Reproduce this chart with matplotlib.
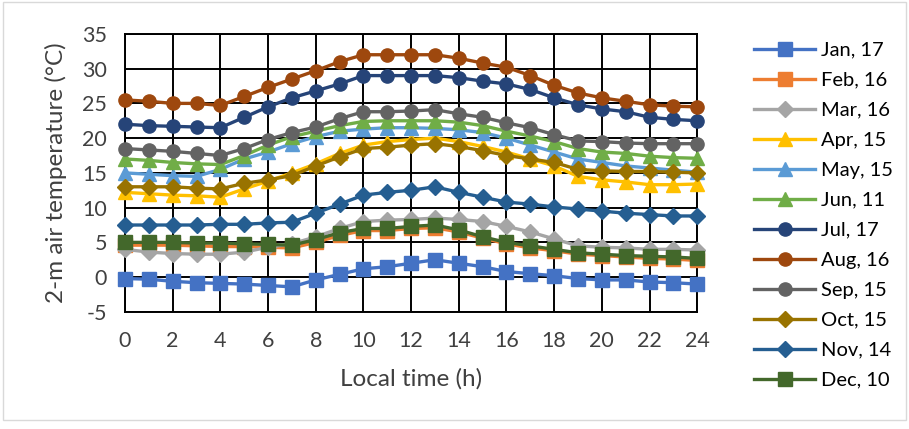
import matplotlib.pyplot as plt
from matplotlib.patches import Rectangle

plt.rcParams['font.family'] = ['Lato', 'DejaVu Sans']
plt.rcParams['axes.unicode_minus'] = False

hours = list(range(25))

jan = [-0.2, -0.3, -0.6, -0.8, -0.9, -1.0, -1.2, -1.4, -0.4, 0.4, 1.2, 1.5, 2.0, 2.5, 2.0, 1.5, 0.8, 0.5, 0.2, -0.2, -0.4, -0.4, -0.7, -0.8, -1.0]
feb = [4.6, 4.6, 4.6, 4.5, 4.4, 4.4, 4.3, 4.2, 5.0, 6.0, 6.7, 6.7, 7.0, 7.1, 6.5, 5.6, 4.8, 4.2, 3.8, 3.3, 3.1, 2.9, 2.7, 2.6, 2.4]
mar = [4.0, 3.6, 3.4, 3.3, 3.3, 3.6, 4.3, 4.8, 5.8, 7.0, 8.0, 8.2, 8.3, 8.5, 8.3, 8.0, 7.3, 6.5, 5.5, 4.5, 4.3, 4.2, 4.0, 4.0, 3.9]
apr = [12.2, 12.0, 11.8, 11.7, 11.5, 12.7, 13.8, 15.0, 16.3, 17.8, 19.0, 19.5, 19.8, 20.0, 19.5, 18.8, 18.0, 17.0, 16.0, 14.5, 14.0, 13.7, 13.3, 13.3, 13.4]
may = [15.0, 14.8, 14.6, 14.5, 15.5, 17.0, 18.0, 19.2, 20.2, 21.0, 21.3, 21.5, 21.5, 21.4, 21.2, 20.8, 20.0, 19.0, 18.0, 17.0, 16.5, 16.0, 15.7, 15.4, 15.1]
jun = [17.0, 16.8, 16.5, 16.3, 16.2, 17.5, 19.0, 20.2, 21.0, 21.8, 22.4, 22.5, 22.5, 22.5, 22.3, 21.8, 21.0, 20.3, 19.5, 18.5, 18.0, 17.8, 17.4, 17.2, 17.1]
jul = [22.0, 21.8, 21.7, 21.6, 21.5, 23.0, 24.5, 25.8, 26.8, 27.8, 29.0, 29.0, 29.0, 29.0, 28.7, 28.2, 27.8, 27.0, 25.8, 24.8, 24.2, 23.8, 23.0, 22.7, 22.5]
aug = [25.5, 25.3, 25.0, 25.0, 24.7, 26.0, 27.3, 28.5, 29.7, 31.0, 32.0, 32.0, 32.0, 32.0, 31.5, 30.8, 30.2, 29.0, 27.6, 26.5, 25.8, 25.3, 24.8, 24.6, 24.5]
sep = [18.5, 18.3, 18.1, 17.8, 17.5, 18.5, 19.8, 20.8, 21.6, 22.8, 23.8, 23.8, 23.9, 24.1, 23.5, 23.0, 22.2, 21.5, 20.5, 19.6, 19.5, 19.3, 19.2, 19.2, 19.2]
oct_ = [13.0, 13.0, 13.0, 12.8, 12.7, 13.5, 14.0, 14.6, 16.0, 17.3, 18.5, 18.7, 19.0, 19.2, 18.8, 18.2, 17.5, 17.0, 16.5, 15.5, 15.3, 15.2, 15.2, 15.1, 15.0]
nov = [7.5, 7.5, 7.5, 7.5, 7.6, 7.6, 7.8, 7.9, 9.2, 10.5, 11.8, 12.2, 12.5, 13.0, 12.2, 11.5, 10.8, 10.5, 10.1, 9.8, 9.5, 9.2, 9.0, 8.8, 8.8]
dec = [5.0, 5.0, 5.0, 4.9, 4.9, 4.8, 4.7, 4.6, 5.4, 6.4, 7.0, 7.0, 7.3, 7.5, 6.8, 5.8, 5.0, 4.5, 4.0, 3.5, 3.3, 3.1, 3.0, 2.9, 2.7]

labels = ['Jan, 17', 'Feb, 16', 'Mar, 16', 'Apr, 15', 'May, 15', 'Jun, 11',
          'Jul, 17', 'Aug, 16', 'Sep, 15', 'Oct, 15', 'Nov, 14', 'Dec, 10']
series = [jan, feb, mar, apr, may, jun, jul, aug, sep, oct_, nov, dec]
colors = ['#4472C4', '#ED7D31', '#A5A5A5', '#FFC000', '#5B9BD5', '#70AD47',
          '#264478', '#9E480E', '#636363', '#997300', '#255E91', '#43682B']
markers = ['s', 's', 'D', '^', '^', '^', 'o', 'o', 'o', 'D', 'D', 's']

fig = plt.figure(figsize=(9.09, 4.29), dpi=100)
ax = fig.add_axes([0.1375, 0.273, 0.6295, 0.648])

for vals, lab, c, m in zip(series, labels, colors, markers):
    ms = 8.5 if m == 'D' else 9.5
    ax.plot(hours, vals, color=c, marker=m, markersize=ms, linewidth=2.4,
            label=lab, clip_on=False, zorder=3)

ax.set_xlim(0, 24)
ax.set_ylim(-5, 35)
ax.set_xticks(range(0, 25, 2))
ax.set_yticks(range(-5, 36, 5))
ax.grid(True, color='black', linewidth=1.4)
ax.set_axisbelow(True)
for s in ax.spines.values():
    s.set_color('black')
    s.set_linewidth(1.4)
ax.tick_params(length=0, labelsize=15.5, colors='#404040')
ax.tick_params(axis='x', pad=14)
ax.tick_params(axis='y', pad=13)

ax.set_xlabel('Local time (h)', fontsize=17.5, color='#404040', labelpad=12)
ax.set_ylabel('2-m air temperature (\u00b0C)', fontsize=17.5, color='#404040', labelpad=11)

fig.legend(loc='upper left', bbox_to_anchor=(0.81, 0.945), frameon=False,
           fontsize=14.5, handlelength=3.0, labelspacing=0.64,
           handletextpad=0.3)

fig.patches.append(Rectangle((0.003, 0.02), 0.994, 0.975, transform=fig.transFigure,
                             fill=False, edgecolor='#d9d9d9', linewidth=1))

fig.savefig('out.png', dpi=100)
